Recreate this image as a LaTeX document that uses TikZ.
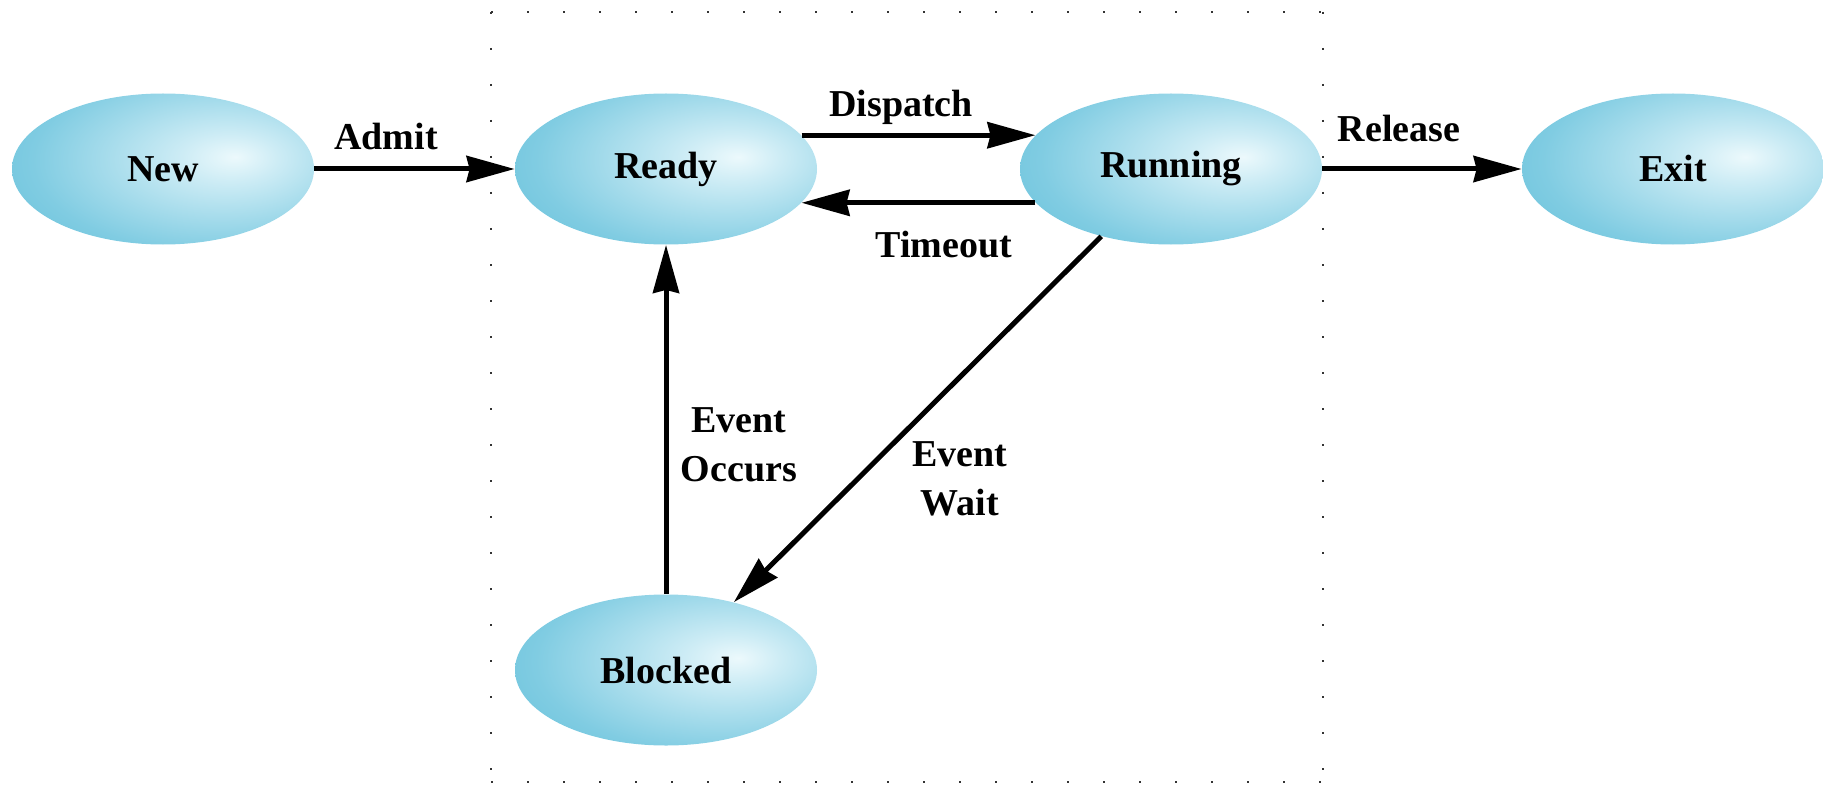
\documentclass[tikz,border=0pt]{standalone}
\usepackage{fontspec}
\setmainfont{Liberation Serif}
\usetikzlibrary{shapes.geometric,arrows.meta}
\definecolor{sc0}{RGB}{236,249,252}
\definecolor{sc1}{RGB}{205,236,245}
\definecolor{sc2}{RGB}{128,204,226}
\definecolor{sc3}{RGB}{80,184,212}
\definecolor{sc4}{RGB}{62,174,206}
\pgfdeclareradialshading{statefill}{\pgfpoint{12bp}{4bp}}{color(0bp)=(sc0);color(8bp)=(sc1);color(30bp)=(sc2);color(52bp)=(sc3);color(70bp)=(sc4);color(100bp)=(sc4)}
\tikzset{
  procstate/.style={ellipse, minimum width=151pt, minimum height=75.5pt, inner sep=0pt,
    shading=statefill, font=\bfseries\fontsize{19}{22}\selectfont},
  lbl/.style={font=\bfseries\fontsize{19}{24.5}\selectfont, align=center, inner sep=0pt},
  arr/.style={line width=2.5pt, -{Stealth[length=24pt,width=13pt,inset=1.5pt]}},
  dotline/.style={line width=0.8pt, dash pattern=on 0.8pt off 17.2pt, black!80}
}
\begin{document}
\begin{tikzpicture}[x=0.5pt,y=-0.5pt]
\useasboundingbox (0,0) rectangle (1823,791);
% dotted frame
\coordinate (f1) at (491,12);
\coordinate (f2) at (1323,12);
\coordinate (f3) at (1323,782);
\coordinate (f4) at (491,782);
\draw[dotline] (f1) -- (f2);
\draw[dotline] (f2) -- (f3);
\draw[dotline] (f4) -- (f3);
\draw[dotline] (f1) -- (f4);
% states
\node[procstate] (new) at (163,169) {New};
\node[procstate] (ready) at (666,169) {Ready};
\node[procstate] (running) at (1171,169) {Running};
\node[procstate] (exit) at (1673,169) {Exit};
\node[procstate] (blocked) at (666,670) {Blocked};
% transitions
\draw[arr] (new.east) -- (ready.west);
\draw[arr] (ready.14) -- (running.166);
\draw[arr] (running.194) -- (ready.-14);
\draw[arr] (running.east) -- (exit.west);
\draw[arr] (blocked.north) -- (ready.south);
\draw[arr] (running.224) -- (blocked.45);
% labels
\node[lbl] (ladmit) at (386,137) {Admit};
\node[lbl] (ldisp) at (901,107) {Dispatch};
\node[lbl] (ltime) at (944,245) {Timeout};
\node[lbl] (lrel) at (1399,129) {Release};
\node[lbl] (locc) at (739,445) {Event\\Occurs};
\node[lbl] (lwait) at (960,479) {Event\\Wait};
\end{tikzpicture}
\end{document}
